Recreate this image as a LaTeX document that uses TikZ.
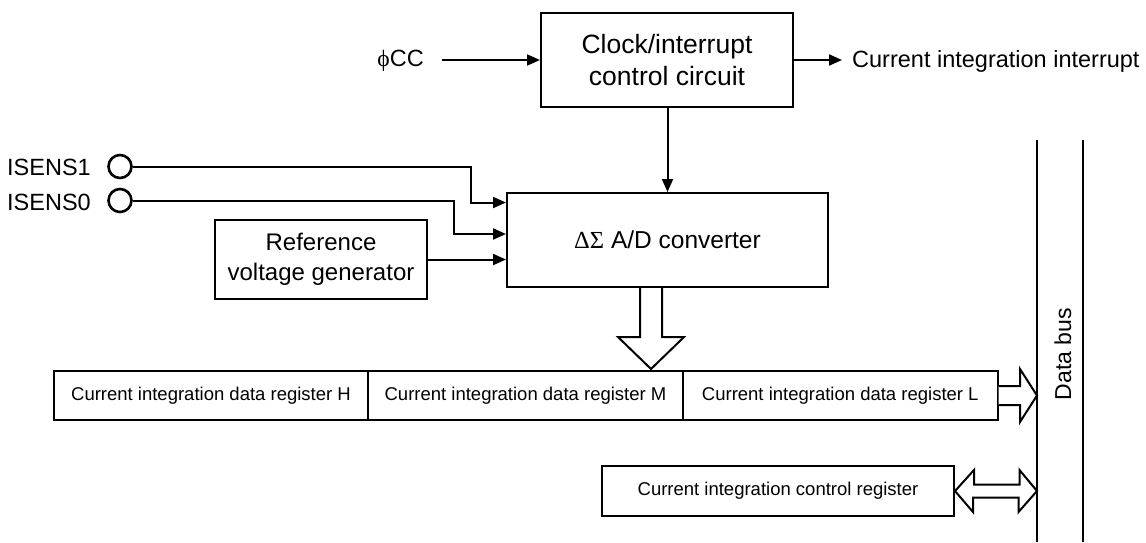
\documentclass[tikz,border=0pt]{standalone}
\usepackage{fontspec}
\setmainfont{Liberation Sans}
\newfontfamily\grk{Liberation Serif}
\usetikzlibrary{arrows.meta,calc}
\begin{document}
\begin{tikzpicture}[x=1pt,y=-1pt,
  blk/.style={draw, line width=2pt, inner sep=0pt, align=center},
  arr/.style={-{Triangle[length=13pt,width=11pt]}, line width=2pt},
  wire/.style={line width=2pt},
  fat/.style={draw, line width=2pt, fill=white, line join=miter},
  pin/.style={circle, draw, line width=2.6pt, minimum size=23pt, inner sep=0pt},
  lbl/.style={inner sep=0pt, font=\fontsize{23.5}{28}\selectfont},
  regtxt/.style={font=\fontsize{18.5}{22}\selectfont}]
\useasboundingbox (0,0) rectangle (1146,542);

% blocks
\node[blk, minimum width=252pt, minimum height=94pt, font=\fontsize{26.5}{32}\selectfont]
  (clock) at (667,60) {Clock/interrupt\\control circuit};
\node[blk, minimum width=321pt, minimum height=94pt, font=\fontsize{24.5}{29}\selectfont]
  (adc) at (667.5,240) {{\grk ΔΣ} A/D converter};
\node[blk, minimum width=212.5pt, minimum height=79pt, font=\fontsize{24}{29.5}\selectfont]
  (ref) at (321,259.5) {Reference\\voltage generator};

\node[blk, regtxt, minimum width=314.5pt, minimum height=49pt]
  (regH) at (211,395.5) {Current integration data register H};
\node[blk, regtxt, minimum width=315pt, minimum height=49pt]
  (regM) at (525.5,395.5) {Current integration data register M};
\node[blk, regtxt, minimum width=314.5pt, minimum height=49pt]
  (regL) at (840.25,395.5) {Current integration data register L};
\node[blk, regtxt, minimum width=352pt, minimum height=49.5pt]
  (ctrl) at (778,491) {Current integration control register};

% labels
\node[lbl, anchor=east] (phicc) at (424,61) {{\grk ϕ}CC};
\node[lbl, anchor=west] (out) at (852,61) {Current integration interrupt};
\node[lbl, anchor=east] (is1) at (91,167) {ISENS1};
\node[lbl, anchor=east] (is0) at (91,202) {ISENS0};
\node[pin] (c1) at (120,166.5) {};
\node[pin] (c0) at (120,200.5) {};

% data bus
\coordinate (busL) at (1037,140);
\coordinate (busLb) at (1037,542);
\coordinate (busR) at (1083,140);
\coordinate (busRb) at (1083,542);
\draw[wire] (busL) -- (busLb);
\draw[wire] (busR) -- (busRb);
\node[rotate=90, inner sep=0pt, font=\fontsize{23}{27}\selectfont] (bus) at (1063,354) {Data bus};

% connectors
\draw[arr] ([xshift=18pt]phicc.east |- clock.west) -- (clock.west);
\draw[arr] (clock.east) -- ([xshift=-10pt]out.west |- clock.east);
\draw[arr] (clock.south -| adc.north) -- (adc.north);
\draw[arr] (c1.east) -| (471,202.5) -- (adc.west |- 0,202.5);
\draw[arr] (c0.east) -| (454,234) -- (adc.west |- 0,234);
\draw[arr] (ref.east) -- (adc.west |- ref.east);

% hollow arrow ADC -> registers
\draw[fat] ($(adc.south)+(-27.5,0)$) -- ++(0,49) -- ++(-22,0)
  -- ($(adc.south |- regM.north)+(-16.5,-1)$)
  -- ($(adc.south)+(16.5,49)$) -- ++(-22,0) -- ($(adc.south)+(-5.5,0)$);

% hollow arrow register L -> bus
\draw[fat] ($(regL.east)+(0,-9.5)$) -- ++(21.5,0) -- ++(0,-17)
  -- (busL |- regL.east)
  -- ($(regL.east)+(21.5,26.5)$) -- ++(0,-17) -- ($(regL.east)+(0,9.5)$);

% double hollow arrow control register <-> bus
\draw[fat] (ctrl.east) -- ++(19,-21) -- ++(0,14.5) -- ++(45.5,0) -- ++(0,-14.5)
  -- (busL |- ctrl.east) -- ++(-18.5,21) -- ++(0,-14.5) -- ++(-45.5,0)
  -- ++(0,14.5) -- cycle;
\end{tikzpicture}
\end{document}
